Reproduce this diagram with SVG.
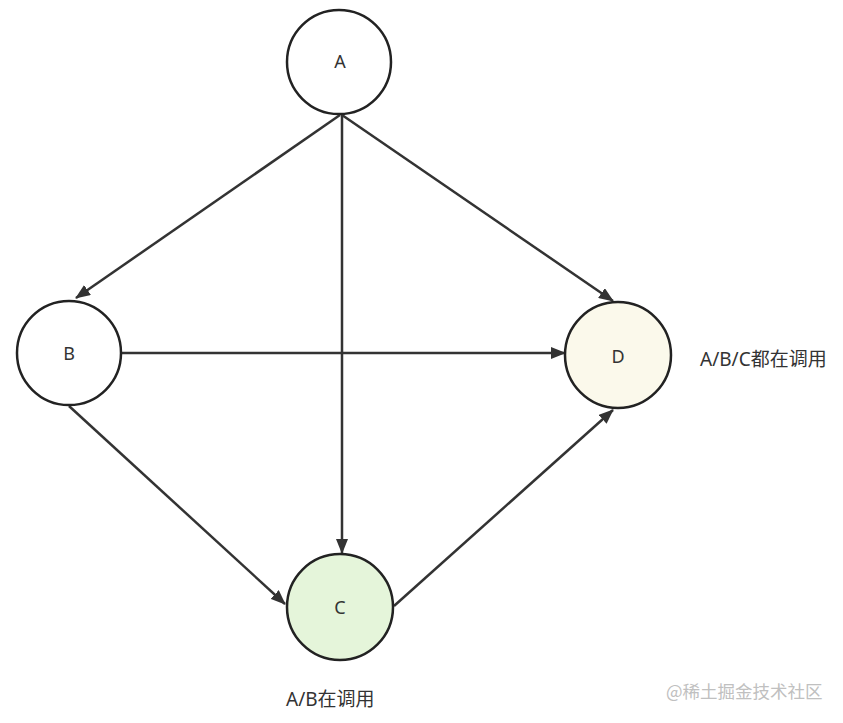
<svg xmlns="http://www.w3.org/2000/svg" width="843" height="723" viewBox="0 0 843 723">
<style>
.node{stroke:#222;stroke-width:2.5}
.lbl{font-family:"Noto Sans","Noto Sans CJK SC",sans-serif;font-size:18px;fill:#333;text-anchor:middle}
.edge{stroke:#333;stroke-width:2.5;fill:none;marker-end:url(#arr)}
.note{font-family:"Noto Sans","Noto Sans CJK SC",sans-serif;font-size:19px;fill:#333}
.wm{font-family:"Noto Sans CJK SC",sans-serif;font-size:17.5px;fill:#c0c0c0}
</style>
<defs>
<marker id="arr" markerUnits="userSpaceOnUse" markerWidth="16" markerHeight="12" refX="14" refY="6" orient="auto">
<path d="M0,0 L15,6 L0,12 Z" fill="#333"/>
</marker>
</defs>
<rect width="843" height="723" fill="#fff"/>
<g id="connectors">
<line class="edge" x1="340" y1="115" x2="76" y2="298"/>
<line class="edge" x1="342" y1="115" x2="342" y2="553"/>
<line class="edge" x1="342" y1="115" x2="613" y2="301"/>
<line class="edge" x1="122" y1="353" x2="565" y2="353"/>
<line class="edge" x1="69" y1="406" x2="285" y2="604"/>
<line class="edge" x1="394" y1="606" x2="613" y2="410"/>
</g>
<g id="A"><circle class="node" cx="339" cy="62" r="52" fill="#fff"/><text class="lbl" x="340" y="68">A</text></g>
<g id="B"><circle class="node" cx="69" cy="353" r="52" fill="#fff"/><text class="lbl" x="69" y="360">B</text></g>
<g id="C"><circle class="node" cx="340" cy="607" r="53" fill="#e5f5da"/><text class="lbl" x="340" y="614">C</text></g>
<g id="D"><circle class="node" cx="618" cy="355" r="53" fill="#fbf9eb"/><text class="lbl" x="618" y="363">D</text></g>
<text class="note" x="700" y="366">A/B/C都在调用</text>
<text class="note" x="286" y="706">A/B在调用</text>
<text class="wm" x="666" y="698">@稀土掘金技术社区</text>
</svg>
